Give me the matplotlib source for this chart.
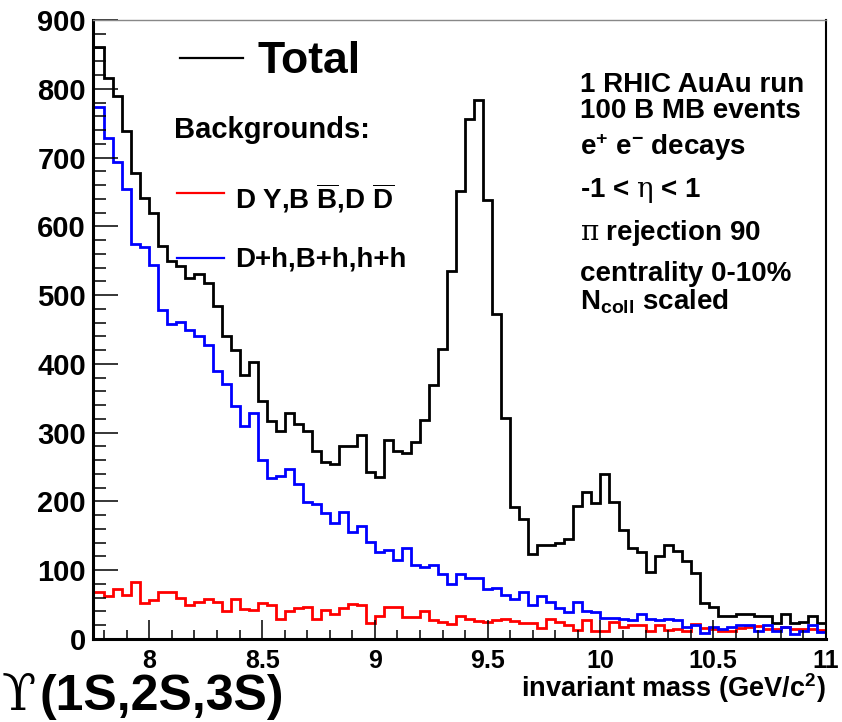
import numpy as np
import matplotlib
matplotlib.use("Agg")
import matplotlib.pyplot as plt
from matplotlib.lines import Line2D

plt.rcParams['font.family'] = ['Liberation Sans', 'DejaVu Sans']
plt.rcParams['font.weight'] = 'bold'
plt.rcParams['mathtext.fontset'] = 'custom'
plt.rcParams['mathtext.rm'] = 'Liberation Sans:bold'
plt.rcParams['mathtext.bf'] = 'Liberation Sans:bold'
plt.rcParams['mathtext.sf'] = 'Liberation Sans:bold'
plt.rcParams['mathtext.it'] = 'DejaVu Serif:normal'

# histogram: 0.04 GeV bins, 7.76 -> 11.0 (first bin runs under the y axis)
bin_lo = 7.76
bin_w = 0.04

total = [861, 815, 789, 739, 678, 641, 619, 572, 550, 543,
         525, 530, 518, 484, 441, 420, 384, 403, 346, 317,
         303, 328, 312, 302, 273, 258, 255, 280, 281, 296,
         243, 235, 290, 273, 271, 287, 319, 370, 421, 535,
         651, 756, 783, 638, 473, 321, 192, 175, 124, 137,
         136, 139, 146, 193, 214, 198, 240, 199, 158, 132,
         127, 97, 120, 136, 128, 113, 96, 52, 47, 34,
         33, 37, 37, 34, 34, 23, 37, 23, 24, 34, 23]

bkg_dy = [68, 63, 72, 64, 83, 53, 56, 68, 69, 59,
          49, 54, 58, 54, 40, 58, 44, 42, 52, 49,
          29, 41, 45, 46, 29, 42, 36, 45, 51, 49,
          23, 34, 46, 47, 32, 32, 40, 27, 24, 22,
          34, 29, 26, 25, 27, 29, 26, 23, 23, 16,
          29, 25, 20, 13, 28, 12, 12, 25, 18, 20,
          21, 12, 20, 13, 14, 11, 22, 16, 15, 12,
          11, 16, 17, 19, 15, 14, 18, 14, 14, 15, 13]

bkg_comb = [773, 728, 694, 655, 574, 570, 544, 479, 458, 461,
            450, 440, 428, 390, 371, 339, 310, 328, 260, 234,
            237, 247, 226, 199, 197, 183, 168, 184, 155, 164,
            141, 126, 130, 115, 132, 108, 105, 108, 94, 80,
            94, 89, 89, 72, 74, 64, 58, 69, 49, 63,
            54, 45, 39, 54, 41, 39, 31, 31, 29, 28,
            37, 29, 27, 29, 27, 17, 20, 8, 17, 15,
            18, 20, 20, 12, 20, 12, 18, 7, 12, 20, 10]

xticks = [8, 8.5, 9, 9.5, 10, 10.5, 11]
xtick_labels = ["8", "8.5", "9", "9.5", "10", "10.5", "11"]
yticks = [0, 100, 200, 300, 400, 500, 600, 700, 800, 900]

info_lines = ["1 RHIC AuAu run", "100 B MB events", r"e$^{+}$ e$^{-}$ decays",
              r"-1 < $\eta$ < 1", r"$\pi$ rejection 90", "centrality 0-10%",
              r"N$_{\mathrm{coll}}$ scaled"]
info_base = [91.7, 118.3, 155, 196.7, 240, 280.7, 310]

edges = bin_lo + bin_w * np.arange(len(total) + 1)
edges[0] = 7.72

W, H = 842, 722
fig = plt.figure(figsize=(W / 100, H / 100), dpi=100)
ax = fig.add_axes([93 / W, 1 - 639 / H, (826 - 93) / W, (639 - 20) / H])

ax.stairs(total, edges, baseline=None, color='black', lw=2)
ax.stairs(bkg_dy, edges, baseline=None, color='#ff0000', lw=2)
ax.stairs(bkg_comb, edges, baseline=None, color='#0000ff', lw=2)

ax.set_xlim(7.75, 11)
ax.set_ylim(0, 900)
ax.set_xticks(xticks, xtick_labels, fontsize=18, fontweight='bold')
ax.set_xticks(np.arange(7.8, 11.0, 0.1), minor=True)
ax.set_yticks(yticks, [str(v) for v in yticks], fontsize=21, fontweight='bold')
ax.set_yticks(np.arange(0, 900, 20), minor=True)

ax.tick_params(axis='y', which='major', direction='in', length=18, width=1.1, pad=5)
ax.tick_params(axis='y', which='minor', direction='in', length=9.5, width=1.1)
ax.tick_params(axis='x', which='major', direction='in', length=13.5, width=1.1, pad=7)
ax.tick_params(axis='x', which='minor', direction='in', length=6.5, width=1.1)

ax.spines['left'].set_linewidth(2.2)
ax.spines['bottom'].set_linewidth(2.2)
ax.spines['right'].set_linewidth(1.5)
ax.spines['top'].set_linewidth(1.0)
ax.spines['top'].set_color('#888888')


def px(x, y):
    return x / W, 1 - y / H


# legend drawn by hand, ROOT style
fig.add_artist(Line2D([180 / W, 243 / W], [1 - 58.3 / H] * 2, color='black', lw=1.6))
fig.text(*px(257, 73.3), "Total", fontsize=32, fontweight='bold', va='baseline')
fig.text(*px(174, 138.3), "Backgrounds:", fontsize=21, fontweight='bold', va='baseline')
fig.add_artist(Line2D([177 / W, 224 / W], [1 - 193.3 / H] * 2, color='#ff0000', lw=1.6))
fig.text(*px(235, 208.3), r"D Y,B $\overline{\mathrm{B}}$,D $\overline{\mathrm{D}}$",
         fontsize=20, fontweight='bold', va='baseline')
fig.add_artist(Line2D([177 / W, 224 / W], [1 - 257.7 / H] * 2, color='#0000ff', lw=1.6))
fig.text(*px(235, 266.7), "D+h,B+h,h+h", fontsize=20, fontweight='bold', va='baseline')

for line, yb in zip(info_lines, info_base):
    fig.text(*px(580, yb), line, fontsize=20, fontweight='bold', va='baseline')

fig.text(*px(826, 697), r"invariant mass (GeV/c$^{2}$)", fontsize=19.5,
         fontweight='bold', ha='right', va='baseline')

fig.text(*px(2, 710), "\u03d2", fontsize=36, family='DejaVu Serif',
         fontweight='normal', va='baseline')
fig.text(*px(40, 710), "(1S,2S,3S)", fontsize=36, fontweight='bold', va='baseline')

fig.savefig("out.png", dpi=100)
